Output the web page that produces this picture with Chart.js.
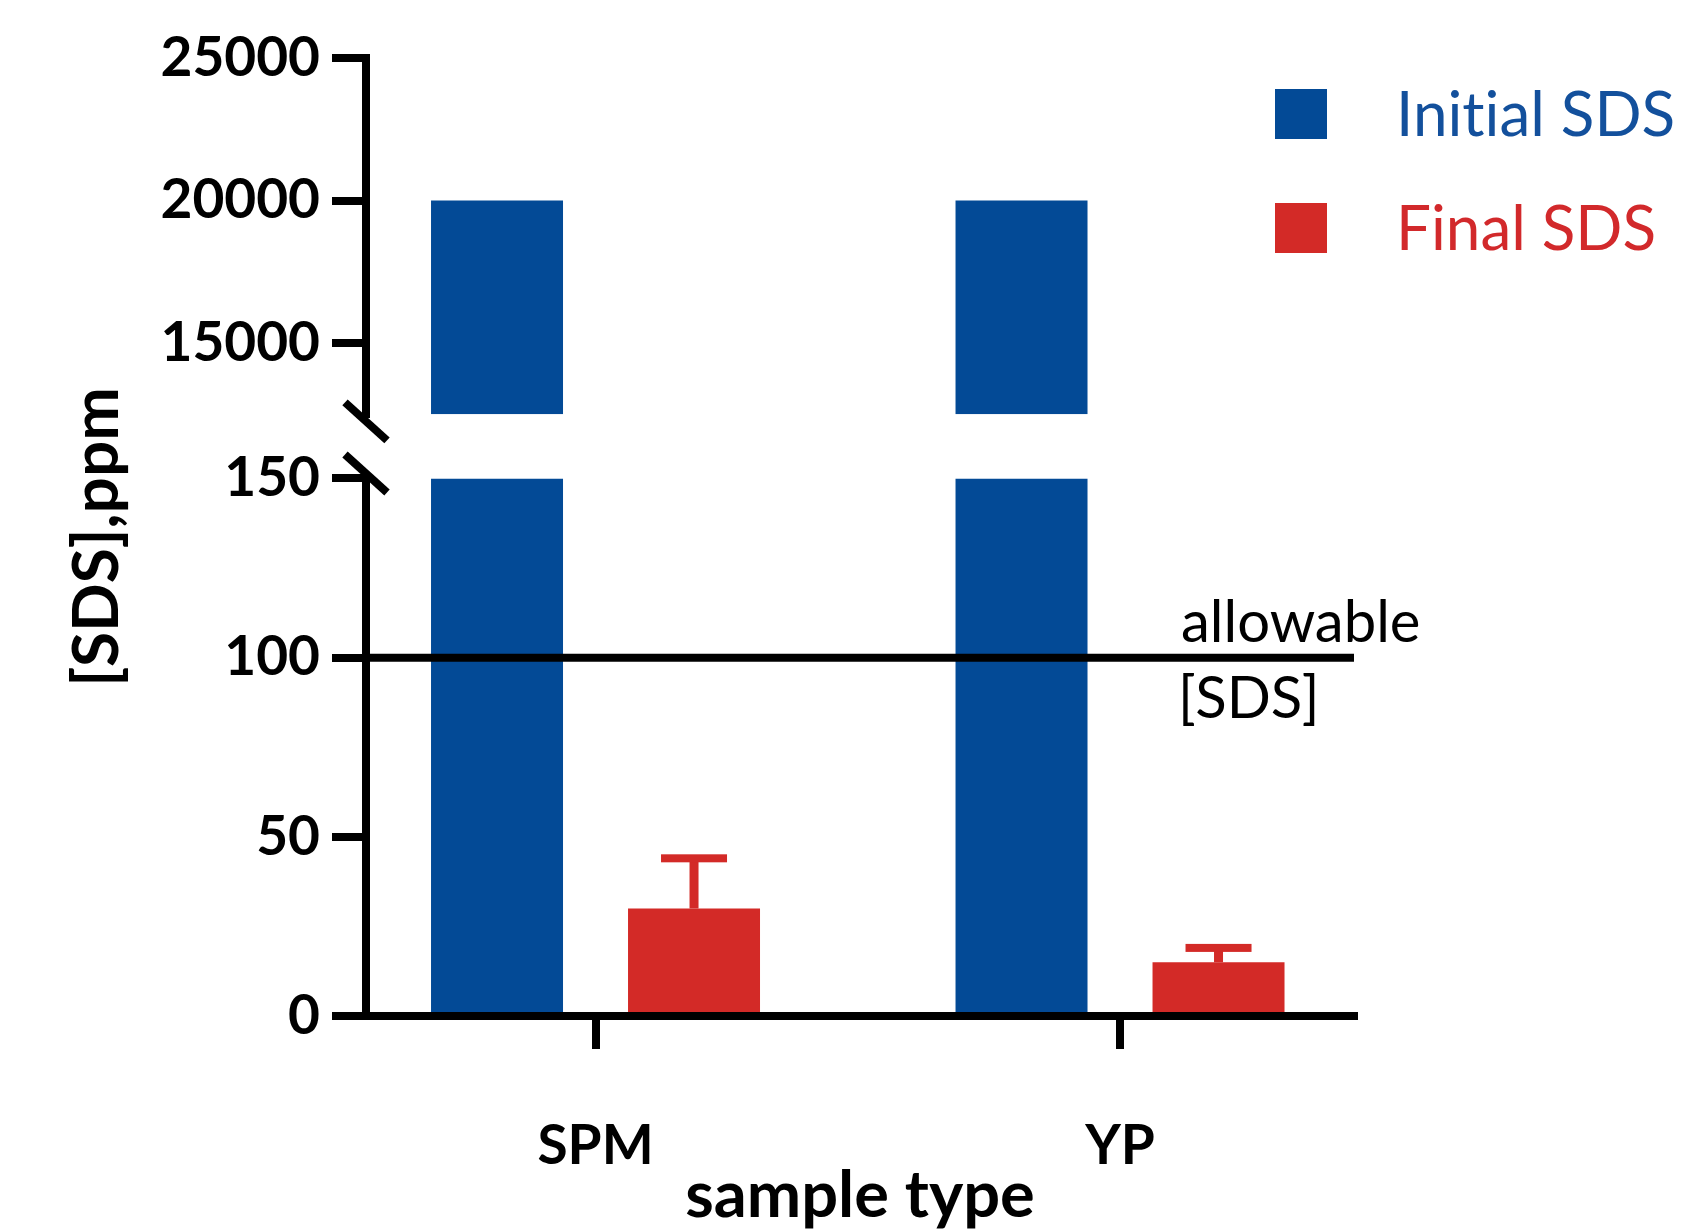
<!DOCTYPE html>
<html>
<head>
<meta charset="utf-8">
<style>
  html, body { margin: 0; padding: 0; background: #ffffff; }
  #wrap { width: 1687px; height: 1231px; position: relative; }
</style>
<script src="https://cdn.jsdelivr.net/npm/chart.js@4.4.0/dist/chart.umd.min.js"></script>
</head>
<body>
<div id="wrap"><canvas id="c" width="1687" height="1231"></canvas></div>
<script>
// ---- data ----
const categories = ['SPM', 'YP'];
const initialSDS = [20000, 20000];
const finalSDS = [30, 15];
const finalSDSError = [14, 4];
const allowableSDS = 100;
const lowerTicks = [0, 50, 100, 150];
const upperTicks = [15000, 20000, 25000];
const lowerRange = [0, 150];
const upperRange = [12500, 25000];
const categoryPositions = [1, 2];

// ---- styles ----
const BLUE = '#034a96';
const RED = '#d32a27';
const BLUE_TEXT = '#13509c';
const RED_TEXT = '#d2292b';
const FONT = 'Lato, "Open Sans", "DejaVu Sans", sans-serif';

Chart.defaults.font.family = FONT;
Chart.defaults.color = '#000';

const lowerBars = categoryPositions.map((x, i) => ({ x, y: Math.min(initialSDS[i], lowerRange[1]) }));
const upperBars = categoryPositions.map((x, i) => ({ x, y: [upperRange[0], initialSDS[i]] }));
const finalBars = categoryPositions.map((x, i) => ({ x, y: finalSDS[i] }));

const tickFont = { family: FONT, size: 55, weight: 'bold', lineHeight: 1 };

function yAxisCommon(extra) {
  return Object.assign({
    type: 'linear',
    position: 'left',
    stack: 'sds',
    stacked: false,
    beginAtZero: false,
    bounds: 'data',
    afterFit: s => { s.width = 237; },
    border: { display: true, width: 8, color: '#000' },
    grid: { drawOnChartArea: false, drawTicks: true, tickLength: 34, lineWidth: 8, color: '#000' },
    ticks: { font: tickFont, color: '#000', padding: 12, callback: v => String(v) }
  }, extra);
}

const errorBarPlugin = {
  id: 'errorBars',
  afterDatasetsDraw(chart) {
    const ctx = chart.ctx;
    const lo = chart.scales.yLow;
    const idx = chart.data.datasets.findIndex(d => d.id === 'final');
    const meta = chart.getDatasetMeta(idx);
    ctx.save();
    ctx.fillStyle = RED;
    meta.data.forEach((bar, i) => {
      const yTop = lo.getPixelForValue(finalSDS[i] + finalSDSError[i]);
      ctx.fillRect(bar.x - 4.5, yTop, 9, bar.y - yTop);
      ctx.fillRect(bar.x - 33, yTop - 4, 66, 8);
    });
    ctx.restore();
  }
};

const allowablePlugin = {
  id: 'allowable',
  afterDatasetsDraw(chart) {
    const ctx = chart.ctx;
    const lo = chart.scales.yLow;
    const area = chart.chartArea;
    const y = lo.getPixelForValue(allowableSDS);
    ctx.save();
    ctx.strokeStyle = '#000';
    ctx.lineWidth = 8;
    ctx.beginPath();
    ctx.moveTo(area.left, y);
    ctx.lineTo(area.right, y);
    ctx.stroke();
    ctx.fillStyle = '#000';
    ctx.font = '58px ' + FONT;
    ctx.textAlign = 'left';
    ctx.textBaseline = 'alphabetic';
    ctx.fillText('allowable', area.right - 173, y - 16);
    ctx.fillText('[SDS]', area.right - 176, y + 60);
    ctx.restore();
  }
};

const breakPlugin = {
  id: 'axisBreak',
  afterDraw(chart) {
    const ctx = chart.ctx;
    const hi = chart.scales.yHigh, lo = chart.scales.yLow;
    const x = chart.chartArea.left;
    ctx.save();
    ctx.strokeStyle = '#000';
    ctx.lineWidth = 8;
    [hi.bottom + 7, lo.top - 5].forEach(cy => {
      ctx.beginPath();
      ctx.moveTo(x - 21, cy - 19);
      ctx.lineTo(x + 21, cy + 19);
      ctx.stroke();
    });
    ctx.restore();
  }
};

const sideLegendPlugin = {
  id: 'sideLegend',
  afterDraw(chart) {
    const ctx = chart.ctx;
    const items = chart.data.datasets.filter(d => !d.hideInLegend);
    ctx.save();
    ctx.font = '62px ' + FONT;
    if ('textRendering' in ctx) ctx.textRendering = 'optimizeSpeed';
    ctx.textAlign = 'left';
    ctx.textBaseline = 'middle';
    items.forEach((d, i) => {
      const cy = 114 + i * 114;
      ctx.fillStyle = d.backgroundColor;
      ctx.fillRect(1275, cy - 25, 52, 50);
      ctx.fillStyle = d.legendColor;
      ctx.fillText(d.label, 1396, cy + 2);
    });
    ctx.restore();
  }
};

new Chart(document.getElementById('c'), {
  type: 'bar',
  data: {
    datasets: [
      { id: 'initialLow', label: 'Initial SDS', data: lowerBars, yAxisID: 'yLow', stack: 'initial',
        backgroundColor: BLUE, legendColor: BLUE_TEXT },
      { id: 'initialHigh', label: 'Initial SDS', data: upperBars, yAxisID: 'yHigh', stack: 'initial',
        backgroundColor: BLUE, hideInLegend: true },
      { id: 'final', label: 'Final SDS', data: finalBars, yAxisID: 'yLow', stack: 'final',
        backgroundColor: RED, legendColor: RED_TEXT }
    ]
  },
  options: {
    responsive: false,
    animation: false,
    devicePixelRatio: 1,
    layout: { padding: { left: 65, right: 333, top: 58, bottom: 0 } },
    datasets: { bar: { categoryPercentage: 0.7512, barPercentage: 0.67, borderWidth: 0 } },
    plugins: {
      legend: { display: false },
      tooltip: { enabled: false },
      title: {
        display: true, text: '[SDS],ppm', position: 'left', fullSize: false,
        font: { family: FONT, size: 64, weight: 'bold', lineHeight: 1 }, padding: 0, color: '#000'
      }
    },
    scales: {
      x: {
        type: 'linear',
        position: 'bottom',
        min: 0.5624,
        max: 2.4461,
        offset: false,
        bounds: 'data',
        afterBuildTicks: s => { s.ticks = categoryPositions.map(v => ({ value: v })); },
        afterFit: s => { s.height = 215; },
        border: { display: true, width: 8, color: '#000' },
        grid: { offset: false, drawOnChartArea: false, drawTicks: true, tickLength: 33, lineWidth: 8, color: '#000' },
        ticks: {
          font: tickFont, color: '#000', padding: 70,
          callback: v => { const i = categoryPositions.indexOf(v); return i >= 0 ? categories[i] : ''; }
        },
        title: {
          display: true, text: 'sample type', color: '#000',
          font: { family: FONT, size: 65, weight: 'bold', lineHeight: 1 },
          padding: { top: 0, bottom: 2 }
        }
      },
      yHigh: yAxisCommon({
        min: upperRange[0], max: upperRange[1], stackWeight: 356, weight: 3,
        afterBuildTicks: s => { s.ticks = upperTicks.map(v => ({ value: v })); }
      }),
      yGap: {
        type: 'linear', position: 'left', stack: 'sds', stackWeight: 64, weight: 2,
        min: 0, max: 1, display: true,
        afterFit: s => { s.width = 237; },
        border: { display: false },
        grid: { display: false, drawTicks: false },
        ticks: { display: false }
      },
      yLow: yAxisCommon({
        min: lowerRange[0], max: lowerRange[1], stackWeight: 537, weight: 1,
        afterBuildTicks: s => { s.ticks = lowerTicks.map(v => ({ value: v })); }
      })
    }
  },
  plugins: [errorBarPlugin, allowablePlugin, breakPlugin, sideLegendPlugin]
});
</script>
</body>
</html>
